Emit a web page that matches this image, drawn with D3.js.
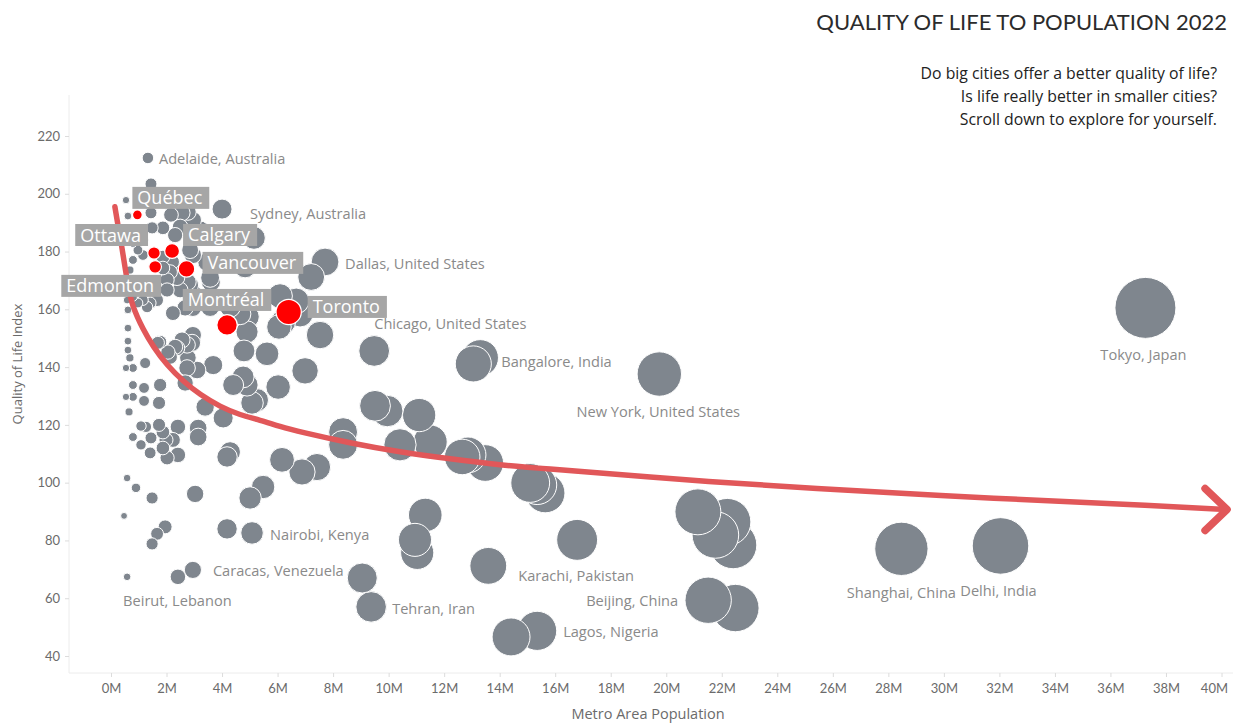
<!DOCTYPE html>
<html>
<head>
<meta charset="utf-8">
<script src="https://cdn.jsdelivr.net/npm/d3@7"></script>
<style>
  body { margin: 0; background: #fff; }
  svg { display: block; font-family: "Open Sans", Lato, sans-serif; }
</style>
</head>
<body>
<svg id="chart" width="1233" height="725"></svg>
<script>
const xTicks = d3.range(0, 41, 2);
const yTicks = d3.range(40, 221, 20);

// highlighted Canadian metros
const canadaNames = ['Québec', 'Ottawa', 'Edmonton', 'Calgary', 'Vancouver', 'Montréal', 'Toronto'];
const canadaPop = [0.95, 1.55, 1.59, 2.2, 2.72, 4.18, 6.4];
const canadaQli = [192.7, 179.5, 174.7, 180.2, 174.0, 154.6, 159.1];

// labelled world metros
const namedCities = ['Adelaide, Australia', 'Sydney, Australia', 'Dallas, United States', 'Chicago, United States',
  'Bangalore, India', 'New York, United States', 'Tokyo, Japan', 'Karachi, Pakistan', 'Beijing, China',
  'Lagos, Nigeria', 'Shanghai, China', 'Delhi, India', 'Tehran, Iran', 'Nairobi, Kenya', 'Caracas, Venezuela',
  'Beirut, Lebanon'];
const namedPop = [1.33, 5.15, 7.71, 9.48, 13.3, 19.75, 37.26, 16.79, 21.51, 15.35, 28.47, 32.04, 9.37, 5.08, 2.95, 0.58];
const namedQli = [212.4, 184.7, 176.4, 145.6, 143.2, 137.6, 160.5, 80.2, 59.3, 48.7, 77.1, 78.1, 57.0, 82.6, 69.8, 67.4];

// every other metro (unlabelled)
const otherPop = [1.44, 0.54, 0.61, 1.44, 2.16, 2.56, 2.77, 4.0, 1.87, 2.31, 1.48, 2.95, 3.21, 2.49, 0.79, 1.15,
  0.97, 1.15, 0.79, 1.87, 2.2, 1.87, 2.13, 2.41, 2.02, 2.38, 2.77, 2.85, 2.95, 3.57, 2.49, 2.02, 1.66, 1.41, 0.97,
  0.79, 0.68, 0.61, 2.95, 3.57, 2.23, 2.95, 2.85, 4.29, 4.94, 0.58, 0.61, 1.15, 1.3, 2.67, 4.83, 3.46, 3.6, 4.65,
  6.09, 6.67, 6.05, 6.2, 7.53, 4.9, 7.21, 4.79, 5.62, 6.99, 3.68, 3.1, 2.74, 2.67, 2.38, 2.74, 1.69, 2.05, 2.13,
  2.77, 2.92, 2.95, 2.56, 2.31, 1.77, 0.61, 0.68, 0.61, 0.61, 0.54, 0.79, 1.23, 0.79, 1.19, 1.77, 1.73, 1.19, 0.79,
  0.54, 0.65, 0.79, 1.08, 1.41, 1.08, 1.26, 1.44, 1.73, 1.87, 1.98, 1.87, 2.02, 2.41, 2.41, 2.23, 3.14, 3.14, 3.39,
  4.04, 4.18, 4.29, 4.9, 4.76, 4.4, 6.02, 5.08, 5.26, 6.16, 6.88, 7.42, 5.01, 5.48, 3.03, 4.18, 0.58, 0.9, 1.48,
  0.47, 1.95, 1.66, 1.48, 2.41, 9.51, 9.95, 11.1, 8.36, 8.36, 10.41, 11.5, 12.65, 12.86, 13.48, 15.1, 15.35, 15.64,
  11.32, 10.95, 11.03, 13.59, 9.05, 14.41, 13.05, 21.14, 22.2, 21.77, 22.41, 22.49, 6.81];
const otherQli = [203.4, 197.8, 192.3, 193.4, 192.7, 193.4, 193.7, 194.7, 188.2, 185.7, 188.2, 190.9, 187.5, 188.5,
  183.0, 184.0, 180.5, 178.8, 177.1, 178.1, 176.4, 174.3, 172.9, 173.6, 170.2, 170.9, 169.5, 180.5, 178.8, 170.9,
  166.7, 166.7, 163.2, 162.2, 162.2, 164.3, 173.6, 170.2, 160.5, 160.8, 158.7, 165.7, 168.4, 160.8, 157.4, 163.2,
  159.8, 163.2, 160.8, 160.5, 174.7, 176.4, 169.5, 158.4, 164.6, 162.9, 153.9, 155.6, 151.1, 152.2, 171.2, 145.6,
  144.6, 138.7, 140.7, 139.0, 139.7, 134.5, 146.6, 147.7, 148.4, 145.2, 143.5, 143.2, 148.4, 151.1, 149.4, 147.0,
  148.7, 145.9, 143.2, 149.0, 153.5, 139.7, 139.7, 141.4, 133.8, 132.8, 133.8, 127.6, 128.3, 129.7, 129.7, 124.5,
  115.8, 113.1, 110.3, 119.6, 119.3, 115.5, 120.0, 117.5, 114.8, 112.0, 108.6, 109.6, 119.3, 114.8, 118.9, 115.8,
  126.2, 122.4, 108.9, 110.6, 133.8, 136.6, 133.8, 133.1, 127.6, 128.6, 107.9, 103.7, 105.4, 94.7, 98.5, 96.1, 84.0,
  101.6, 98.2, 94.7, 88.5, 84.7, 82.3, 78.8, 67.4, 126.6, 124.8, 123.4, 117.5, 113.1, 113.1, 114.1, 108.9, 109.6,
  106.8, 99.9, 99.2, 96.4, 88.8, 80.2, 75.7, 71.2, 67.0, 46.6, 141.1, 89.9, 86.4, 81.9, 78.4, 56.6, 158.4];

// drawn trend arrow
const trendPop = [0.14, 0.26, 0.39, 0.5, 0.62, 0.75, 1.16, 1.52, 2.01, 2.61, 3.21, 3.93, 4.65, 5.37, 6.09, 6.81,
  8.61, 10.41, 12.22, 14.02, 15.82, 17.62, 19.42, 21.23, 24.83, 32.04, 37.8, 40.2];
const trendQli = [195.5, 188.6, 181.7, 174.8, 167.9, 161.5, 152.9, 147.1, 140.7, 135.0, 130.4, 126.3, 123.4, 121.7,
  119.4, 117.6, 113.7, 110.6, 108.2, 106.1, 104.7, 103.4, 102.0, 100.6, 98.2, 94.4, 92.0, 90.7];

// label placement (pixel offsets from the mark)
const namedLabelPos = [[11, 1, 'start'], [-4, -24, 'start'], [20, 2, 'start'], [0, -27, 'start'], [21, 4, 'start'],
  [-1, 38, 'middle'], [-2, 47, 'middle'], [-1, 36, 'middle'], [-30, 1, 'end'], [26, 1, 'start'], [0, 44, 'middle'],
  [-2, 45, 'middle'], [21, 2, 'start'], [18, 2, 'start'], [20, 1, 'start'], [-4, 24, 'start']];
const canadaLabelPos = [[-5, -17, 'start'], [-6, -18, 'end'], [6, 19, 'end'], [11, -16, 'start'],
  [16, -6, 'start'], [0, -25, 'middle'], [19, -5, 'start']];

const svg = d3.select('#chart');
const GREY = '#7f868e';
const RED = '#ff0000';
const TREND = '#e15759';

const x = d3.scaleLinear().domain([0, 40]).range([111, 1221.5]);
const y = d3.scaleLinear().domain([40, 220]).range([656, 136]);
const r = d3.scaleSqrt().domain([0, 40]).range([0, 31.6]);

// frame
svg.append('line').attr('x1', 69).attr('x2', 69).attr('y1', 95).attr('y2', 673).attr('stroke', '#ececec');
svg.append('line').attr('x1', 69).attr('x2', 1233).attr('y1', 673).attr('y2', 673).attr('stroke', '#ececec');

// axes
const xAxis = svg.append('g').attr('transform', 'translate(0,673)')
  .call(d3.axisBottom(x).tickValues(xTicks).tickFormat(d => d + 'M').tickSize(4).tickPadding(7));
const yAxis = svg.append('g').attr('transform', 'translate(69,0)')
  .call(d3.axisLeft(y).tickValues(yTicks).tickSize(4).tickPadding(5));
[xAxis, yAxis].forEach(g => {
  g.select('.domain').remove();
  g.selectAll('line').attr('stroke', '#dcdcdc');
  g.selectAll('text').attr('fill', '#6b6b6b').attr('font-size', 13).attr('font-family', 'Lato, sans-serif');
});
xAxis.selectAll('.tick:last-of-type text').attr('text-anchor', 'end').attr('x', 6);

svg.append('text').attr('x', 648).attr('y', 719).attr('text-anchor', 'middle')
  .attr('fill', '#6b6b6b').attr('font-size', 14.5).text('Metro Area Population');
svg.append('text').attr('transform', 'translate(22,364) rotate(-90)').attr('text-anchor', 'middle')
  .attr('fill', '#6b6b6b').attr('font-size', 13).text('Quality of Life Index');

// title block
svg.append('text').attr('x', 1227).attr('y', 30).attr('text-anchor', 'end').attr('font-family', 'Lato, sans-serif')
  .attr('fill', '#2b2b2b').attr('font-size', 22).text('QUALITY OF LIFE TO POPULATION 2022');
['Do big cities offer a better quality of life?', 'Is life really better in smaller cities?',
  'Scroll down to explore for yourself.'].forEach((t, i) => {
  svg.append('text').attr('x', 1217).attr('y', 79 + i * 23).attr('text-anchor', 'end')
    .attr('fill', '#222').attr('font-size', 15.8).text(t);
});

// bubbles
const others = otherPop.map((p, i) => ({pop: p, qli: otherQli[i]}));
const named = namedCities.map((n, i) => ({name: n, pop: namedPop[i], qli: namedQli[i], pos: namedLabelPos[i]}));
const canada = canadaNames.map((n, i) => ({name: n, pop: canadaPop[i], qli: canadaQli[i], pos: canadaLabelPos[i]}));

const greyMarks = others.concat(named).sort((a, b) => b.pop - a.pop);
svg.append('g').selectAll('circle').data(greyMarks).enter().append('circle')
  .attr('cx', d => x(d.pop)).attr('cy', d => y(d.qli)).attr('r', d => r(d.pop))
  .attr('fill', GREY).attr('stroke', '#fff').attr('stroke-width', 1);

// trend arrow
const trend = trendPop.map((p, i) => [x(p), y(trendQli[i])]);
svg.append('path').datum(trend)
  .attr('d', d3.line().curve(d3.curveBasis))
  .attr('fill', 'none').attr('stroke', TREND).attr('stroke-width', 5.5).attr('stroke-linecap', 'round');
const tip = trend[trend.length - 1];
svg.append('path')
  .attr('d', `M${tip[0] - 22},${tip[1] - 21}L${tip[0]},${tip[1]}L${tip[0] - 22},${tip[1] + 21}`)
  .attr('fill', 'none').attr('stroke', TREND).attr('stroke-width', 7.5)
  .attr('stroke-linecap', 'round').attr('stroke-linejoin', 'round');

svg.append('g').selectAll('circle').data(canada).enter().append('circle')
  .attr('cx', d => x(d.pop)).attr('cy', d => y(d.qli)).attr('r', d => r(d.pop))
  .attr('fill', RED).attr('stroke', '#fff').attr('stroke-width', 1.2);

// grey labels
svg.append('g').selectAll('text').data(named).enter().append('text')
  .attr('x', d => x(d.pop) + d.pos[0]).attr('y', d => y(d.qli) + d.pos[1]).attr('dy', '0.35em')
  .attr('text-anchor', d => d.pos[2]).attr('fill', '#8a8a8a').attr('font-size', 14.6).text(d => d.name);

// Canadian label boxes
const boxes = svg.append('g').selectAll('g').data(canada).enter().append('g');
boxes.each(function (d) {
  const g = d3.select(this);
  const t = g.append('text').attr('fill', '#fff').attr('font-size', 18).text(d.name);
  const w = t.node().getComputedTextLength() + 12;
  const px = x(d.pop) + d.pos[0], py = y(d.qli) + d.pos[1];
  const left = d.pos[2] === 'start' ? px : d.pos[2] === 'end' ? px - w : px - w / 2;
  g.insert('rect', 'text').attr('x', left).attr('y', py - 11).attr('width', w).attr('height', 22).attr('fill', '#a6a6a6');
  t.attr('x', left + 5).attr('y', py + 6.5);
});
</script>
</body>
</html>
